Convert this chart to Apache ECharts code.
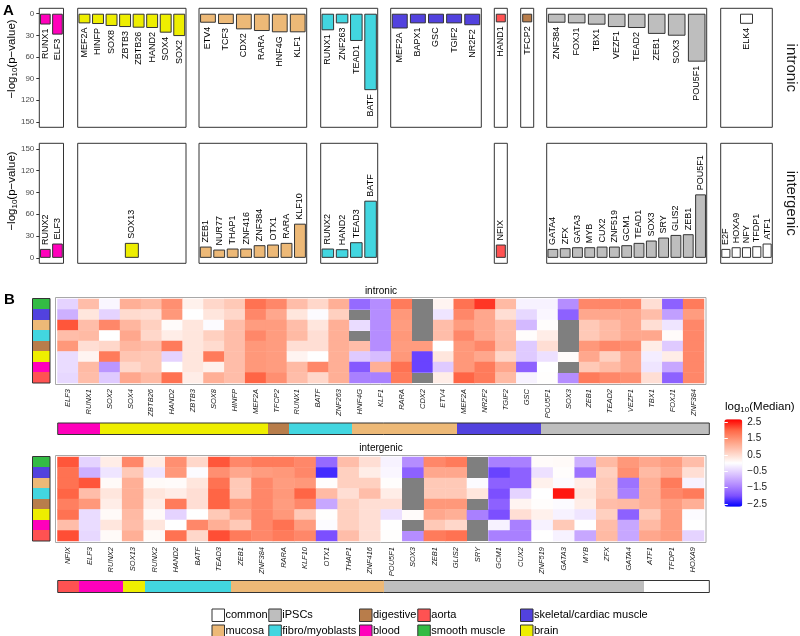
<!DOCTYPE html>
<html><head><meta charset="utf-8">
<script src="https://cdn.jsdelivr.net/npm/echarts@6/dist/echarts.min.js"></script>
<style>html,body{margin:0;padding:0;background:#fff}#c{width:800px;height:636px}</style>
</head><body><div id="c"></div>
<script>
// ---------------- DATA ----------------
const pTicks = [0, 30, 60, 90, 120, 150];
const colorbarTicks = [-2.5, -1.5, -0.5, 0.5, 1.5, 2.5];

const intronicPanelTissues = ['blood','brain','mucosa','fibro/myoblasts','skeletal/cardiac muscle','aorta','digestive','iPSCs','common'];
const intronicGenes = [
  ['RUNX1','ELF3'],
  ['MEF2A','HINFP','SOX8','ZBTB3','ZBTB26','HAND2','SOX4','SOX2'],
  ['ETV4','TCF3','CDX2','RARA','HNF4G','KLF1'],
  ['RUNX1','ZNF263','TEAD1','BATF'],
  ['MEF2A','BAPX1','GSC','TGIF2','NR2F2'],
  ['HAND1'],
  ['TFCP2'],
  ['ZNF384','FOXJ1','TBX1','VEZF1','TEAD2','ZEB1','SOX3','POU5F1'],
  ['ELK4']
];
const intronicLogP = [
  [15, 29],
  [13.4, 14.3, 17, 18.5, 19.4, 19.8, 26.3, 31],
  [12.5, 14.3, 21.7, 24, 25.8, 25.8],
  [23, 13.4, 37.8, 106],
  [20.5, 13.4, 13.4, 13.4, 16],
  [12],
  [12],
  [12.5, 13.4, 15.2, 18.5, 19.8, 28, 30.5, 66.5],
  [14]
];

const intergenicPanelTissues = ['blood','brain','mucosa','fibro/myoblasts','aorta','iPSCs','common'];
const intergenicGenes = [
  ['RUNX2','ELF3'],
  ['SOX13'],
  ['ZEB1','NUR77','THAP1','ZNF416','ZNF384','OTX1','RARA','KLF10'],
  ['RUNX2','HAND2','TEAD3','BATF'],
  ['NFIX'],
  ['GATA4','ZFX','GATA3','MYB','CUX2','ZNF519','GCM1','TEAD1','SOX3','SRY','GLIS2','ZEB1','POU5F1'],
  ['E2F','HOXA9','NFY','TFDP1','ATF1']
];
const intergenicLogP = [
  [12.3, 19.7],
  [20.6],
  [15.5, 11.4, 12.8, 12.8, 17.4, 18.3, 20.6, 47],
  [12.8, 11.9, 21.5, 78.6],
  [18.3],
  [12.3, 13.3, 14.6, 14.6, 15.5, 15.5, 17.4, 20.6, 23.8, 27.9, 31.5, 32.5, 87.3],
  [12.3, 14.6, 14.6, 16, 19.7]
];

// heatmap rows (top -> bottom)
const rowTissues = ['smooth muscle','skeletal/cardiac muscle','mucosa','fibro/myoblasts','digestive','brain','blood','aorta'];

const intronicHmGenes = ['ELF3','RUNX1','SOX2','SOX4','ZBTB26','HAND2','ZBTB3','SOX8','HINFP','MEF2A','TFCP2','RUNX1','BATF','ZNF263','HNF4G','KLF1','RARA','CDX2','ETV4','MEF2A','NR2F2','TGIF2','GSC','POU5F1','SOX3','ZEB1','TEAD2','VEZF1','TBX1','FOXJ1','ZNF384'];
const intronicHmTissue = ['blood','blood','brain','brain','brain','brain','brain','brain','brain','brain','digestive','fibro/myoblasts','fibro/myoblasts','fibro/myoblasts','mucosa','mucosa','mucosa','mucosa','mucosa','skeletal/cardiac muscle','skeletal/cardiac muscle','skeletal/cardiac muscle','skeletal/cardiac muscle','iPSCs','iPSCs','iPSCs','iPSCs','iPSCs','iPSCs','iPSCs','iPSCs'];
// log10(Median) per column, rows in rowTissues order; null = NA
const intronicExpr = [
  [-0.5,-0.9,2.1,0.9,1.4,-0.4,-0.4,-0.45],
  [0.9,0.35,0.9,0.95,0.45,0.15,0.95,0.9],
  [-0.1,-0.5,1.6,0,0.55,1.75,-1.2,-0.6],
  [1.1,0.5,1.0,1.2,1.0,0.8,0.55,1.2],
  [0.95,0.45,0.65,0.55,0.9,0.75,0.75,0.95],
  [1.5,1.4,0.05,0.25,1.75,-0.5,0,1.85],
  [0.2,0,0.35,0.35,0.35,0.35,0.35,0.25],
  [0.55,0.35,-0.05,0.65,0.5,1.75,0.2,1.1],
  [0.75,0.55,0.9,0.9,0.9,0.9,0.9,0.9],
  [1.85,1.6,1.35,1.6,1.4,1.4,1.4,2.0],
  [1.6,1.2,1.35,1.35,1.35,1.35,1.35,1.5],
  [0.9,0.35,0.9,0.95,0.45,0.15,0.95,0.9],
  [0.55,-0.05,0.35,0.45,0.45,0,1.6,0.55],
  [1.1,0.65,1.1,1.1,1.1,1.1,1.1,1.1],
  [-1.7,null,-0.4,null,0.9,-0.6,-1.9,-1.45],
  [-1.3,-1.3,-1.3,-1.3,-1.3,-0.75,1.1,-1.45],
  [1.75,1.4,1.35,1.4,1.35,1.4,1.85,1.75],
  [null,null,null,null,1.35,-2.1,-2.1,null],
  [0.15,-0.3,0.9,0.9,0,0.35,-0.6,0.25],
  [1.85,1.6,1.35,1.6,1.4,1.4,1.4,2.0],
  [2.3,1.2,1.2,1.2,1.6,1.2,1.75,1.75],
  [0.95,0.45,0.9,0.9,0.95,0.55,1.2,0.95],
  [-0.15,-0.45,-0.8,0.03,-0.6,-0.6,-1.8,-0.15],
  [-0.15,-0.1,0.03,0.25,0.45,-0.35,0,0.02],
  [-1.3,-1.8,null,null,null,0.05,null,-1.3],
  [1.6,1.2,0.75,0.75,1.4,1.2,0.75,1.75],
  [1.6,1.2,0.95,0.95,1.6,0.65,0.95,1.6],
  [1.6,1.2,1.2,1.2,1.5,1.2,1.2,1.5],
  [0.45,0.9,0.45,1.2,0.25,-0.2,-0.3,0.45],
  [-1.8,-1.1,-0.3,0.05,-0.6,0.25,-1.0,-1.8],
  [1.75,1.35,1.6,1.6,1.6,1.6,1.6,1.6]
];

const intergenicHmGenes = ['NFIX','ELF3','RUNX2','SOX13','RUNX2','HAND2','BATF','TEAD3','ZEB1','ZNF384','RARA','KLF10','OTX1','THAP1','ZNF416','POU5F1','SOX3','ZEB1','GLIS2','SRY','GCM1','CUX2','ZNF519','GATA3','MYB','ZFX','GATA4','ATF1','TFDP1','HOXA9'];
const intergenicHmTissue = ['aorta','blood','blood','brain','fibro/myoblasts','fibro/myoblasts','fibro/myoblasts','fibro/myoblasts','mucosa','mucosa','mucosa','mucosa','mucosa','mucosa','mucosa','iPSCs','iPSCs','iPSCs','iPSCs','iPSCs','iPSCs','iPSCs','iPSCs','iPSCs','iPSCs','iPSCs','iPSCs','common','common','common'];
const intergenicExpr = [
  [2.1,1.85,1.85,2.0,1.7,1.85,0.9,2.15],
  [-0.5,-0.9,2.1,0.9,1.4,-0.4,-0.4,-0.45],
  [0.25,-0.3,0.07,0.35,0.25,0.07,0.35,0.07],
  [1.6,0.75,1.1,1.1,1.1,0.95,0.9,1.1],
  [0.25,-0.3,0.07,0.35,0.25,0.07,0.35,0.07],
  [1.5,1.4,0.05,0.25,1.75,-0.5,0,1.85],
  [0.55,-0.05,0.35,0.45,0.45,0,1.6,0.55],
  [2.1,1.5,1.85,2.0,2.0,0.75,1.1,2.15],
  [1.6,1.2,0.75,0.75,1.4,1.2,0.75,1.75],
  [1.75,1.35,1.6,1.6,1.6,1.6,1.6,1.6],
  [1.75,1.4,1.35,1.4,1.35,1.4,1.85,1.75],
  [1.6,1.6,1.4,2.0,1.6,0.75,1.35,1.6],
  [-1.7,-2.3,0.03,0.95,-1.0,0.02,-0.05,-2.0],
  [0.9,0.65,0.65,0.45,0.65,0.65,0.65,0.9],
  [0.45,0.25,0.65,0.9,0.45,0.45,0.45,0.45],
  [-0.15,-0.1,0.03,0.25,0.45,-0.35,0,0.02],
  [-1.3,-1.8,null,null,null,0.05,null,-1.3],
  [1.6,1.2,0.75,0.75,1.4,1.2,0.75,1.75],
  [1.75,1.2,0.75,0.75,1.4,1.1,0.55,1.85],
  [null,null,-0.05,0.35,null,-1.45,null,null],
  [-1.45,-2.1,-1.8,-2.0,-1.8,-2.0,-0.15,-1.45],
  [-1.45,-1.8,-1.8,-0.5,0.15,0.45,-1.45,-1.45],
  [0.05,-0.35,0.2,0,0.03,0.2,-0.15,0],
  [0.07,0.03,-0.05,2.5,-0.05,-0.15,0.75,-0.15],
  [-0.9,-1.6,0.25,0.35,0.25,-0.3,0,-1.0],
  [0.95,0.65,0.75,0.75,0.9,0.65,0.9,0.95],
  [1.4,1.5,-1.6,-1.45,0.95,-1.8,-1.0,-1.0],
  [1.2,0.95,1.1,1.1,1.1,0.75,0.95,1.2],
  [1.35,1.2,1.75,1.6,1.35,1.35,1.35,1.35],
  [0.9,0.45,-0.15,1.75,1.1,-0.05,0,-0.5]
];

const legendColumns = [
  ['common','mucosa'],
  ['iPSCs','fibro/myoblasts'],
  ['digestive','blood'],
  ['aorta','smooth muscle'],
  ['skeletal/cardiac muscle','brain']
];

// ---------------- STYLE ----------------
const FONT = '"Liberation Sans", Arial, Helvetica, sans-serif';
const tissueColor = {
  'common':'#FFFFFF','iPSCs':'#BEBEBE','digestive':'#B87D4B','aorta':'#FF5252',
  'skeletal/cardiac muscle':'#5242DE','mucosa':'#EDB977','fibro/myoblasts':'#42D6E0',
  'blood':'#FF00BB','smooth muscle':'#33BB44','brain':'#EEEE00'
};
const panelBox = {
  'blood':[39.3,24.2],'brain':[77.7,108.3],'mucosa':[199,107.7],'fibro/myoblasts':[320.7,57],
  'skeletal/cardiac muscle':[390.7,90.6],'aorta':[494.3,13],'digestive':[520.7,13],'iPSCs':[546.7,160],'common':[720.7,51.6]
};
const singleBarWidth = {
  intronic: {'aorta':10,'digestive':10,'common':13},
  intergenic: {'brain':14,'aorta':10}
};

const grids = [], xAxes = [], yAxes = [], series = [];

function addPanel(kind, tissue, genes, vals, top, height, showY) {
  const gi = grids.length;
  const box = panelBox[tissue];
  grids.push({left: box[0], top: top, width: box[1], height: height, show: true,
    borderColor: '#333', borderWidth: 1, backgroundColor: 'transparent', z: 3});
  xAxes.push({type:'category', gridIndex: gi, data: genes, axisLine:{show:false}, axisTick:{show:false},
    axisLabel:{show:false}, splitLine:{show:false}});
  yAxes.push({type:'value', gridIndex: gi, min: -7.5, max: 157.5, inverse: kind === 'intronic',
    axisLine:{show:false}, splitLine:{show:false},
    axisTick:{show: showY, customValues: pTicks, length: 3, lineStyle:{color:'#333'}},
    axisLabel:{show: showY, customValues: pTicks, fontSize: 8, color:'#4D4D4D', margin: 5, fontFamily: FONT}});
  const bw = singleBarWidth[kind][tissue];
  const s = {type:'bar', name: tissue, xAxisIndex: gi, yAxisIndex: gi, data: vals,
    barCategoryGap: '12%', silent: true,
    itemStyle:{color: tissueColor[tissue], borderColor:'#333', borderWidth: 1},
    label:{show:true, formatter: p => p.name, rotate: 90,
      position: kind === 'intronic' ? 'bottom' : 'top',
      align: kind === 'intronic' ? 'right' : 'left', verticalAlign:'middle',
      distance: 4, fontSize: 9, color:'#000', fontFamily: FONT}};
  if (bw) s.barWidth = bw;
  series.push(s);
}

intronicPanelTissues.forEach((t, i) => addPanel('intronic', t, intronicGenes[i], intronicLogP[i], 8.3, 119, i === 0));
intergenicPanelTissues.forEach((t, i) => addPanel('intergenic', t, intergenicGenes[i], intergenicLogP[i], 143.3, 120, i === 0));

// dummy series so that 'smooth muscle' gets a legend key
series.push({type:'scatter', name:'smooth muscle', xAxisIndex: 0, yAxisIndex: 0, data: [],
  itemStyle:{color: tissueColor['smooth muscle'], borderColor:'#333', borderWidth:1, opacity: 1}});

function cellRenderer(fillFor) {
  return function (params, api) {
    const c = api.coord([api.value(0), api.value(1)]);
    const s = api.size([1, 1]);
    const x0 = Math.round(c[0] - s[0] / 2), x1 = Math.round(c[0] + s[0] / 2);
    const y0 = Math.round(c[1] - s[1] / 2), y1 = Math.round(c[1] + s[1] / 2);
    return {type:'rect', shape:{x: x0, y: y0, width: x1 - x0, height: y1 - y0},
      style:{fill: fillFor(params.dataIndex), stroke: null}};
  };
}

const heatmapSeriesIdx = [];
function addHeatmap(genes, expr, colTissue, frameTop, annTop, annH) {
  const gf = grids.length;
  grids.push({left: 55.5, top: frameTop, width: 650.5, height: 87, show: true,
    borderColor:'#A8A8A8', borderWidth: 1, backgroundColor:'transparent'});
  xAxes.push({gridIndex: gf, type:'value', show:false});
  yAxes.push({gridIndex: gf, type:'value', show:false});
  const gc = grids.length;
  grids.push({left: 57.5, top: frameTop + 1.5, width: 646.5, height: 84});
  xAxes.push({gridIndex: gc, type:'category', data: genes, axisLine:{show:false}, axisTick:{show:false},
    splitLine:{show:false},
    axisLabel:{interval: 0, rotate: 90, fontSize: 7.5, fontStyle:'italic', color:'#1a1a1a', margin: 6, fontFamily: FONT}});
  yAxes.push({gridIndex: gc, type:'category', data: rowTissues, inverse: true, show: false});
  const vals = [], nas = [];
  expr.forEach((col, i) => col.forEach((v, j) => { if (v === null) nas.push([i, j]); else vals.push([i, j, v]); }));
  heatmapSeriesIdx.push(series.length);
  series.push({type:'heatmap', xAxisIndex: gc, yAxisIndex: gc, data: vals, silent: true,
    itemStyle:{borderWidth: 0}, emphasis:{disabled: true}});
  series.push({type:'custom', xAxisIndex: gc, yAxisIndex: gc, data: nas, silent: true,
    renderItem: cellRenderer(() => '#7F7F7F')});
  const gr = grids.length;
  grids.push({left: 32.5, top: frameTop + 1, width: 17.5, height: 84.5, show: true,
    borderColor:'#333', borderWidth: 1, backgroundColor:'transparent', z: 3});
  xAxes.push({gridIndex: gr, type:'category', data:['tissue'], show:false});
  yAxes.push({gridIndex: gr, type:'category', data: rowTissues, inverse: true, show:false});
  series.push({type:'custom', xAxisIndex: gr, yAxisIndex: gr, silent: true,
    data: rowTissues.map((t, j) => [0, j]),
    renderItem: cellRenderer(i => tissueColor[rowTissues[i]])});
  const ga = grids.length;
  grids.push({left: 57.7, top: annTop, width: 651.6, height: annH, show: true,
    borderColor:'#333', borderWidth: 1, backgroundColor:'transparent', z: 3});
  xAxes.push({gridIndex: ga, type:'category', data: genes, show:false});
  yAxes.push({gridIndex: ga, type:'category', data:['tissue'], show:false});
  series.push({type:'custom', xAxisIndex: ga, yAxisIndex: ga, silent: true,
    data: colTissue.map((t, i) => [i, 0]),
    renderItem: cellRenderer(i => tissueColor[colTissue[i]])});
}
addHeatmap(intronicHmGenes, intronicExpr, intronicHmTissue, 297.5, 423, 11.5);
addHeatmap(intergenicHmGenes, intergenicExpr, intergenicHmTissue, 455.5, 580.5, 12);

const gcb = grids.length;
grids.push({left: 724.3, top: 419.3, width: 18, height: 87.4});
xAxes.push({gridIndex: gcb, type:'value', show:false});
const cbFmt = v => (v < 0 ? '\u2212' : '') + Math.abs(v).toFixed(1);
yAxes.push({gridIndex: gcb, type:'value', min: -2.65, max: 2.65, position:'right', z: 10,
  axisLine:{show:false}, splitLine:{show:false},
  axisTick:{show:true, inside:true, length: 3.5, customValues: colorbarTicks, lineStyle:{color:'#fff', width: 1}},
  axisLabel:{customValues: colorbarTicks, formatter: cbFmt, fontSize: 10, color:'#1a1a1a', margin: 5, fontFamily: FONT}});
yAxes.push({gridIndex: gcb, type:'value', min: -2.65, max: 2.65, position:'left', z: 10,
  axisLine:{show:false}, splitLine:{show:false},
  axisTick:{show:true, inside:true, length: 3.5, customValues: colorbarTicks, lineStyle:{color:'#fff', width: 1}},
  axisLabel:{show:false}});

const legends = legendColumns.map((names, k) => ({
  data: names, orient:'horizontal', left: [211.5, 268.3, 359, 417.3, 520][k], top: 608.5,
  width: 14, padding: 0, itemGap: 2.5, itemWidth: 12.5, itemHeight: 12.5, icon:'rect', selectedMode: false,
  itemStyle:{borderColor:'#333', borderWidth: 1, opacity: 1},
  textStyle:{fontSize: 11, color:'#000', fontFamily: FONT, padding:[0,0,0,-4]}
}));

const sub = (a, s, b, size, subSize) => ({
  text: '{a|' + a + '}{s|' + s + '}{a|' + b + '}',
  rich: {
    a: {fontSize: size, fontFamily: FONT, fill:'#000', lineHeight: size + 3},
    s: {fontSize: subSize, fontFamily: FONT, fill:'#000', lineHeight: subSize + 1, verticalAlign:'bottom'}
  }
});

const graphic = [
  {type:'text', x: 3, y: 10.5, style:{text:'A', font:'bold 15px ' + FONT, fill:'#000', verticalAlign:'middle'}},
  {type:'text', x: 4, y: 300, style:{text:'B', font:'bold 15px ' + FONT, fill:'#000', verticalAlign:'middle'}},
  {type:'text', x: 12, y: 59, rotation: Math.PI / 2,
    style: Object.assign(sub('\u2212log', '10', '(p\u2212value)', 11.5, 8), {align:'center', verticalAlign:'middle'})},
  {type:'text', x: 12, y: 191, rotation: Math.PI / 2,
    style: Object.assign(sub('\u2212log', '10', '(p\u2212value)', 11.5, 8), {align:'center', verticalAlign:'middle'})},
  {type:'text', x: 791, y: 67.8, rotation: -Math.PI / 2,
    style:{text:'intronic', font:'15px ' + FONT, fill:'#1a1a1a', align:'center', verticalAlign:'middle'}},
  {type:'text', x: 791, y: 203.3, rotation: -Math.PI / 2,
    style:{text:'intergenic', font:'15px ' + FONT, fill:'#1a1a1a', align:'center', verticalAlign:'middle'}},
  {type:'text', x: 381, y: 291, style:{text:'intronic', font:'10px ' + FONT, fill:'#000', align:'center', verticalAlign:'middle'}},
  {type:'text', x: 381, y: 448.5, style:{text:'intergenic', font:'10px ' + FONT, fill:'#000', align:'center', verticalAlign:'middle'}},
  {type:'text', x: 725, y: 406.5,
    style: Object.assign(sub('log', '10', '(Median)', 11.5, 8), {align:'left', verticalAlign:'middle'})}
];

const option = {
  animation: false,
  backgroundColor: '#fff',
  textStyle: {fontFamily: FONT},
  grid: grids, xAxis: xAxes, yAxis: yAxes, series: series,
  legend: legends,
  visualMap: {type:'continuous', min: -2.65, max: 2.65, seriesIndex: heatmapSeriesIdx,
    left: 724.3, top: 419.3, itemWidth: 18, itemHeight: 87.4, padding: 0,
    calculable: false, hoverLink: false, realtime: false, showLabel: false,
    inRange:{color:['#0000FF','#7E51FF','#B38BFF','#DCC5FF','#FFFFFF','#FFCFBF','#FF9E81','#FF6746','#FF0000']}},
  graphic: graphic
};
const chart = echarts.init(document.getElementById('c'), null, {renderer:'canvas'});
chart.setOption(option);
</script></body></html>
